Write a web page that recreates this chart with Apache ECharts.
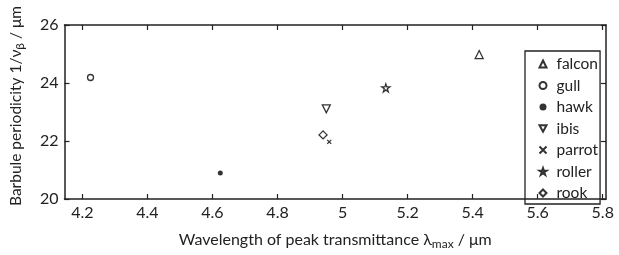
<!DOCTYPE html>
<html>
<head>
<meta charset="utf-8">
<script src="https://cdn.jsdelivr.net/npm/echarts@6/dist/echarts.min.js"></script>
<style>
  html, body { margin: 0; padding: 0; background: #fff; }
  #chart { width: 619px; height: 255px; }
</style>
</head>
<body>
<div id="chart"></div>
<script>
// bird species and measured points [wavelength lambda_max, periodicity 1/nu_beta]
var birds = ['falcon', 'gull', 'hawk', 'ibis', 'parrot', 'roller', 'rook'];
var falcon = [[5.42, 24.98]];
var gull   = [[4.225, 24.19]];
var hawk   = [[4.624, 20.9]];
var ibis   = [[4.95, 23.11]];
var parrot = [[4.959, 21.97]];
var roller = [[5.133, 23.83]];
var rook   = [[4.94, 22.21]];
var xTicks = [4.2, 4.4, 4.6, 4.8, 5, 5.2, 5.4, 5.6, 5.8];

var FONT = 'Lato';
var STAR = 'path://M50,0L61.8,35.5L100,35.5L69.1,57.4L80.9,95.1L50,71.6L19.1,95.1L30.9,57.4L0,35.5L38.2,35.5Z';
var CROSS = 'path://M0,0L10,10M10,0L0,10';

var open = { color: '#fff', borderColor: '#000', borderWidth: 1.3 };

function mk(name, data, symbol, size, style)
{
	return {
		name: name,
		type: 'scatter',
		data: data,
		symbol: symbol,
		symbolSize: size,
		itemStyle: style,
		emphasis: { disabled: true }
	};
}

var series =
[
	mk('falcon', falcon, 'triangle', 8, open),
	mk('gull', gull, 'circle', 6, open),
	mk('hawk', hawk, 'circle', 5, { color: '#000' }),
	mk('ibis', ibis, 'path://M0,0L10,0L5,9Z', 8, open),
	mk('parrot', parrot, CROSS, 4, { color: 'none', borderColor: '#000', borderWidth: 1.3 }),
	mk('roller', roller, STAR, 8, open),
	mk('rook', rook, 'diamond', 8, open)
];

var chart = echarts.init(document.getElementById('chart'));

var axisLine = { show: true, onZero: false, lineStyle: { color: '#222', width: 1.5 } };
var tickIn = { show: true, inside: true, length: 5, lineStyle: { color: '#222', width: 1.2 } };
var subStyle = { fontFamily: FONT, fontSize: 12, color: '#222', padding: [9, 0, 0, 0] };

chart.setOption({
	animation: false,
	textStyle: { fontFamily: FONT },
	grid: { left: 63, right: 13, top: 25, bottom: 48 },
	legend:
	{
		data: birds,
		orient: 'vertical',
		left: 525,
		top: 51,
		padding: [5, 2, 3, 12],
		borderColor: '#222',
		borderWidth: 1.3,
		itemWidth: 7,
		itemHeight: 7,
		itemGap: 5.5,
		textStyle: { fontFamily: FONT, fontSize: 15.5, lineHeight: 16, color: '#222', padding: [0, 0, 0, 5] }
	},
	xAxis:
	[
		{
			type: 'value', min: 4.145, max: 5.81,
			name: 'Wavelength of peak transmittance λ{sub|max} / μm',
			nameLocation: 'middle', nameGap: 30,
			nameTextStyle: { fontFamily: FONT, fontSize: 16, color: '#222', rich: { sub: subStyle } },
			axisLine: axisLine,
			axisTick: Object.assign({ customValues: xTicks }, tickIn),
			axisLabel: { customValues: xTicks, fontSize: 16, color: '#222', margin: 6 },
			splitLine: { show: false }
		},
		{
			type: 'value', position: 'top', min: 4.145, max: 5.81,
			axisLine: axisLine,
			axisTick: Object.assign({ customValues: xTicks }, tickIn),
			axisLabel: { show: false },
			splitLine: { show: false }
		}
	],
	yAxis:
	[
		{
			type: 'value', min: 20, max: 26, interval: 2,
			name: 'Barbule periodicity 1/ν{sub|β} / μm',
			nameLocation: 'middle', nameGap: 38,
			nameTextStyle: { fontFamily: FONT, fontSize: 15.5, color: '#222', padding: [0, 0, 0, 12],
				rich: { sub: subStyle } },
			axisLine: axisLine,
			axisTick: tickIn,
			axisLabel: { fontSize: 16, color: '#222', margin: 6 },
			splitLine: { show: false }
		},
		{
			type: 'value', position: 'right', min: 20, max: 26, interval: 2,
			axisLine: axisLine,
			axisTick: tickIn,
			axisLabel: { show: false },
			splitLine: { show: false }
		}
	],
	series: series
});
</script>
</body>
</html>
